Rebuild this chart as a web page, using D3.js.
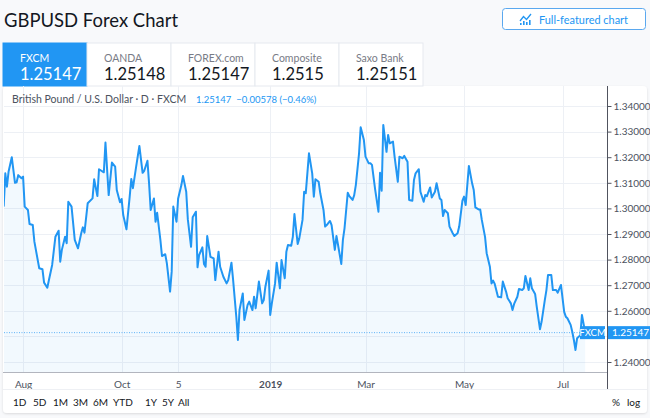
<!DOCTYPE html>
<html>
<head>
<meta charset="utf-8">
<script src="https://cdn.jsdelivr.net/npm/d3@7"></script>
<style>
  body { margin: 0; background: #f8f9fb; }
  svg { display: block; font-family: Lato, "Open Sans", sans-serif; }
</style>
</head>
<body>
<svg id="chart"></svg>
<script>
var width = 650, height = 418;

// quote tabs
var brokers = ["FXCM", "OANDA", "FOREX.com", "Composite", "Saxo Bank"];
var quotes = ["1.25147", "1.25148", "1.25147", "1.2515", "1.25151"];

// time axis
var tickDates = ["2018-08-01", "2018-10-01", "2018-11-05", "2019-01-01", "2019-03-01", "2019-05-01", "2019-07-01"];
var tickLabels = ["Aug", "Oct", "5", "2019", "Mar", "May", "Jul"];
var priceTicks = [1.24, 1.25, 1.26, 1.27, 1.28, 1.29, 1.30, 1.31, 1.32, 1.33, 1.34];
var ranges = ["1D", "5D", "1M", "3M", "6M", "YTD", "1Y", "5Y", "All"];

var lastPrice = 1.25147;

// daily closes, GBPUSD (FXCM)
var dates = [
  "2018-07-20","2018-07-21","2018-07-22","2018-07-23","2018-07-25","2018-07-27","2018-07-28","2018-07-29","2018-07-31",
  "2018-08-01","2018-08-02","2018-08-04","2018-08-05","2018-08-07","2018-08-08","2018-08-11","2018-08-13","2018-08-14","2018-08-16",
  "2018-08-17","2018-08-19","2018-08-21","2018-08-23","2018-08-24","2018-08-25","2018-08-27","2018-08-28","2018-08-29","2018-08-31",
  "2018-09-02","2018-09-04","2018-09-06","2018-09-07","2018-09-08","2018-09-10","2018-09-13","2018-09-14","2018-09-16","2018-09-17",
  "2018-09-20","2018-09-21","2018-09-23","2018-09-25","2018-09-27","2018-09-28","2018-09-30",
  "2018-10-01","2018-10-02","2018-10-04","2018-10-06","2018-10-07","2018-10-08","2018-10-10","2018-10-12","2018-10-14","2018-10-15",
  "2018-10-17","2018-10-18","2018-10-19","2018-10-21","2018-10-22","2018-10-23","2018-10-25","2018-10-26","2018-10-28","2018-10-29","2018-10-31",
  "2018-11-01","2018-11-02","2018-11-04","2018-11-05","2018-11-07","2018-11-08","2018-11-10","2018-11-11","2018-11-13","2018-11-14",
  "2018-11-16","2018-11-17","2018-11-18","2018-11-20","2018-11-21","2018-11-22","2018-11-23","2018-11-25","2018-11-27","2018-11-28","2018-11-30",
  "2018-12-01","2018-12-03","2018-12-05","2018-12-06","2018-12-08","2018-12-09","2018-12-11","2018-12-12","2018-12-13","2018-12-15",
  "2018-12-16","2018-12-18","2018-12-19","2018-12-21","2018-12-22","2018-12-23","2018-12-25","2018-12-27","2018-12-28","2018-12-29","2018-12-31",
  "2019-01-01","2019-01-02","2019-01-04","2019-01-05","2019-01-07","2019-01-08","2019-01-10","2019-01-11","2019-01-12","2019-01-14","2019-01-15",
  "2019-01-16","2019-01-18","2019-01-19","2019-01-21","2019-01-22","2019-01-23","2019-01-25","2019-01-27","2019-01-28","2019-01-29","2019-01-31",
  "2019-02-01","2019-02-03","2019-02-04","2019-02-05","2019-02-07","2019-02-08","2019-02-10","2019-02-11","2019-02-12","2019-02-14",
  "2019-02-15","2019-02-16","2019-02-18","2019-02-19","2019-02-21","2019-02-22","2019-02-23","2019-02-25","2019-02-26","2019-02-28",
  "2019-03-01","2019-03-03","2019-03-04","2019-03-05","2019-03-07","2019-03-09","2019-03-10","2019-03-11","2019-03-12","2019-03-14","2019-03-15",
  "2019-03-16","2019-03-18","2019-03-19","2019-03-21","2019-03-22","2019-03-24","2019-03-25","2019-03-27","2019-03-28","2019-03-30","2019-03-31",
  "2019-04-01","2019-04-03","2019-04-04","2019-04-06","2019-04-07","2019-04-08","2019-04-10","2019-04-11","2019-04-13","2019-04-14","2019-04-16",
  "2019-04-17","2019-04-18","2019-04-19","2019-04-21","2019-04-22","2019-04-24","2019-04-25","2019-04-27","2019-04-28","2019-04-30",
  "2019-05-01","2019-05-02","2019-05-04","2019-05-06","2019-05-07","2019-05-08","2019-05-10","2019-05-11","2019-05-12","2019-05-14","2019-05-15",
  "2019-05-17","2019-05-18","2019-05-19","2019-05-20","2019-05-22","2019-05-24","2019-05-25","2019-05-27","2019-05-28","2019-05-30","2019-05-31",
  "2019-06-01","2019-06-03","2019-06-04","2019-06-06","2019-06-07","2019-06-08","2019-06-10","2019-06-11","2019-06-12","2019-06-14","2019-06-15",
  "2019-06-17","2019-06-18","2019-06-20","2019-06-21","2019-06-22","2019-06-24","2019-06-25","2019-06-27","2019-06-28","2019-06-30",
  "2019-07-01","2019-07-02","2019-07-03","2019-07-04","2019-07-06","2019-07-07","2019-07-08","2019-07-09","2019-07-10","2019-07-12","2019-07-13","2019-07-15"
];
var closes = [
  1.3007,1.3137,1.3085,1.3143,1.3200,1.3100,1.3102,1.3130,1.3118,
  1.3124,1.3007,1.2994,1.2939,1.2935,1.2870,1.2766,1.2762,1.2710,1.2690,
  1.2720,1.2779,1.2889,1.2913,1.2792,1.2838,1.2889,1.2864,1.3026,1.3007,
  1.2877,1.2844,1.2903,1.2926,1.2905,1.3020,1.3039,1.3114,1.3048,1.3153,
  1.3141,1.3257,1.3052,1.3179,1.3163,1.3072,1.3024,
  1.3037,1.2974,1.2918,1.3046,1.3115,1.3079,1.3163,1.3244,1.3139,1.3147,
  1.3186,1.3098,1.2994,1.3039,1.2948,1.2983,1.2877,1.2814,1.2821,1.2786,1.2675,
  1.2753,1.3007,1.2948,1.3039,1.3091,1.3127,1.3065,1.2957,1.2850,1.2965,
  1.2987,1.2770,1.2818,1.2848,1.2783,1.2772,1.2892,1.2811,1.2805,1.2720,1.2831,
  1.2772,1.2733,1.2707,1.2720,1.2788,1.2723,1.2577,1.2486,1.2603,1.2668,
  1.2564,1.2623,1.2636,1.2603,1.2655,1.2610,1.2714,1.2629,1.2642,1.2694,1.2757,
  1.2584,1.2629,1.2707,1.2788,1.2688,1.2798,1.2727,1.2831,1.2857,1.2854,1.2889,
  1.2978,1.2861,1.2883,1.2955,1.3065,1.3059,1.3215,1.3137,1.3046,1.3114,1.3104,
  1.3059,1.2994,1.2929,1.2935,1.2951,1.2935,1.2838,1.2892,1.2857,1.2783,
  1.2877,1.2922,1.3061,1.3048,1.3033,1.3052,1.3091,1.3215,1.3317,1.3267,
  1.3202,1.3176,1.3176,1.3170,1.3072,1.2987,1.3139,1.3069,1.3326,1.3221,1.3287,
  1.3254,1.3261,1.3202,1.3104,1.3202,1.3196,1.3205,1.3182,1.3033,1.3030,1.3111,
  1.3137,1.3153,1.3065,1.3026,1.3052,1.3048,1.3082,1.3043,1.3065,1.3098,1.3039,
  1.3033,1.2970,1.2994,1.2981,1.2929,1.2903,1.2892,1.2903,1.2929,1.3030,
  1.3046,1.3013,1.3166,1.3098,1.3072,1.3004,1.2996,1.2996,1.2955,1.2889,1.2825,
  1.2772,1.2707,1.2718,1.2705,1.2655,1.2653,1.2714,1.2675,1.2649,1.2629,1.2603,
  1.2627,1.2655,1.2685,1.2681,1.2688,1.2736,1.2681,1.2727,1.2688,1.2666,1.2616,
  1.2528,1.2557,1.2642,1.2681,1.2740,1.2740,1.2681,1.2681,1.2671,1.2701,
  1.2649,1.2596,1.2577,1.2571,1.2545,1.2518,1.2486,1.2447,1.2493,1.2505,1.2584,1.25147
];

var blue = "#2196f3";
var parse = d3.utcParse("%Y-%m-%d");
var data = dates.map(function(d, i) { return { date: parse(d), close: closes[i] }; });

var plotLeft = 4, plotRight = 607, plotTop = 86, plotBottom = 372;

var x = d3.scaleUtc()
    .domain([parse("2018-07-20"), parse("2019-07-29")])
    .range([3.7, 607.8]);
var y = d3.scaleLinear()
    .domain([1.24, 1.34])
    .range([362, 106]);

var svg = d3.select("#chart")
    .attr("width", width)
    .attr("height", height);

var defs = svg.append("defs");
var shadow = defs.append("filter").attr("id", "shadow")
    .attr("x", "-5%").attr("y", "-5%").attr("width", "110%").attr("height", "110%");
shadow.append("feDropShadow").attr("dx", 0).attr("dy", 1).attr("stdDeviation", 1.2)
    .attr("flood-color", "#000").attr("flood-opacity", 0.12);
defs.append("clipPath").attr("id", "plotclip").append("rect")
    .attr("x", plotLeft).attr("y", plotTop).attr("width", plotRight - plotLeft).attr("height", plotBottom - plotTop);

// title + button
svg.append("text")
    .attr("x", 4).attr("y", 27)
    .attr("font-size", 20).attr("fill", "#131722")
    .attr("textLength", 174).attr("lengthAdjust", "spacingAndGlyphs")
    .text("GBPUSD Forex Chart");

var btn = svg.append("g");
btn.append("rect")
    .attr("x", 502.5).attr("y", 8.5).attr("width", 143).attr("height", 21).attr("rx", 3)
    .attr("fill", "#fff").attr("stroke", "#5aa8ef");
btn.append("path")
    .attr("d", "M520,21 L523.5,16.5 L526.5,19.5 L531,14")
    .attr("fill", "none").attr("stroke", blue).attr("stroke-width", 1.3);
btn.selectAll(".bar").data([2, 4, 3, 5]).enter().append("rect")
    .attr("x", function(d, i) { return 520 + i * 3; })
    .attr("y", function(d) { return 25 - d; })
    .attr("width", 1.6).attr("height", function(d) { return d; })
    .attr("fill", blue);
btn.append("text")
    .attr("x", 539).attr("y", 23.5)
    .attr("font-size", 11.5).attr("fill", blue)
    .attr("textLength", 89).attr("lengthAdjust", "spacingAndGlyphs")
    .text("Full-featured chart");

// panel
svg.append("rect")
    .attr("x", 3).attr("y", 86).attr("width", 644).attr("height", 327).attr("rx", 4)
    .attr("fill", "#fff").attr("filter", "url(#shadow)");

// tabs
var tabX = d3.scaleBand().domain(brokers).range([3, 423]);
var tabs = svg.selectAll(".tab").data(brokers).enter().append("g")
    .attr("transform", function(d) { return "translate(" + tabX(d) + ",43)"; });
tabs.append("rect")
    .attr("width", tabX.bandwidth()).attr("height", 43)
    .attr("fill", function(d, i) { return i === 0 ? blue : "#fff"; })
    .attr("stroke", function(d, i) { return i === 0 ? blue : "#e6e9ef"; });
tabs.append("text")
    .attr("x", 17).attr("y", 19)
    .attr("font-size", 10.5)
    .attr("fill", function(d, i) { return i === 0 ? "#fff" : "#787b86"; })
    .text(function(d) { return d; });
tabs.append("text")
    .attr("x", 17).attr("y", 37)
    .attr("font-size", 16.5)
    .attr("fill", function(d, i) { return i === 0 ? "#fff" : "#131722"; })
    .text(function(d, i) { return quotes[i]; });

// grid
var grid = svg.append("g");
grid.selectAll(".hg").data(priceTicks).enter().append("line")
    .attr("x1", plotLeft).attr("x2", plotRight)
    .attr("y1", function(d) { return Math.round(y(d)) + 0.5; })
    .attr("y2", function(d) { return Math.round(y(d)) + 0.5; })
    .attr("stroke", "#edf0f5");
grid.selectAll(".vg").data(tickDates).enter().append("line")
    .attr("x1", function(d) { return Math.round(x(parse(d))) + 0.5; })
    .attr("x2", function(d) { return Math.round(x(parse(d))) + 0.5; })
    .attr("y1", plotTop).attr("y2", plotBottom)
    .attr("stroke", "#edf0f5");

// area + line
var area = d3.area()
    .x(function(d) { return x(d.date); })
    .y0(plotBottom)
    .y1(function(d) { return y(d.close); });
var line = d3.line()
    .x(function(d) { return x(d.date); })
    .y(function(d) { return y(d.close); });

var plot = svg.append("g").attr("clip-path", "url(#plotclip)");
plot.append("path").datum(data)
    .attr("d", area)
    .attr("fill", blue).attr("fill-opacity", 0.06);
plot.append("path").datum(data)
    .attr("d", line)
    .attr("fill", "none").attr("stroke", blue).attr("stroke-width", 2)
    .attr("stroke-linejoin", "round");

// last price dotted line
svg.append("line")
    .attr("x1", plotLeft).attr("x2", 580)
    .attr("y1", y(lastPrice)).attr("y2", y(lastPrice))
    .attr("stroke", blue).attr("stroke-opacity", 0.7)
    .attr("stroke-dasharray", "1,1.5");

// legend
svg.append("text")
    .attr("x", 12).attr("y", 103)
    .attr("font-size", 10.5).attr("fill", "#4c525e")
    .text("British Pound / U.S. Dollar \u00b7 D \u00b7 FXCM");
svg.append("text")
    .attr("x", 196).attr("y", 102.5)
    .attr("font-size", 9.5).attr("fill", blue)
    .style("white-space", "pre")
    .text("1.25147  \u22120.00578 (\u22120.46%)");

// time axis
svg.append("line")
    .attr("x1", 3).attr("x2", plotRight)
    .attr("y1", plotBottom + 0.5).attr("y2", plotBottom + 0.5)
    .attr("stroke", "#b2b5be");
var xAxis = d3.axisBottom(x)
    .tickValues(tickDates.map(parse))
    .tickSize(0)
    .tickFormat(function(d, i) { return tickLabels[i]; });
var gx = svg.append("g")
    .attr("transform", "translate(0," + plotBottom + ")")
    .call(xAxis);
gx.select(".domain").remove();
gx.selectAll("text")
    .attr("y", 9).attr("dy", "0.71em")
    .attr("font-family", "Lato, 'Open Sans', sans-serif")
    .attr("font-size", 10).attr("fill", "#4c525e")
    .attr("font-weight", function(d, i) { return tickLabels[i] === "2019" ? "bold" : "normal"; });

// price axis (the tick label under the last-price box is hidden, as in the original)
var yAxis = d3.axisRight(y)
    .tickValues(priceTicks)
    .tickSize(4)
    .tickPadding(2)
    .tickFormat(d3.format(".5f"));
var gy = svg.append("g")
    .attr("transform", "translate(" + (plotRight + 0.5) + ",0)")
    .call(yAxis);
gy.select(".domain").remove();
gy.selectAll("line").attr("stroke", "#50535e");
gy.selectAll("text")
    .attr("font-family", "Lato, 'Open Sans', sans-serif")
    .attr("font-size", 10).attr("fill", "#4c525e")
    .filter(function(d) { return Math.abs(y(d) - y(lastPrice)) < 12; })
    .remove();
svg.append("line")
    .attr("x1", plotRight + 0.5).attr("x2", plotRight + 0.5)
    .attr("y1", plotTop).attr("y2", 389)
    .attr("stroke", "#50535e");

// last price labels
svg.append("rect")
    .attr("x", 580).attr("y", y(lastPrice) - 6.5).attr("width", 25).attr("height", 13)
    .attr("fill", blue);
svg.append("text")
    .attr("x", 592.5).attr("y", y(lastPrice) + 3.5)
    .attr("text-anchor", "middle").attr("font-size", 9.5).attr("fill", "#fff")
    .text("FXCM");
svg.append("rect")
    .attr("x", plotRight + 1).attr("y", y(lastPrice) - 6.5).attr("width", 43).attr("height", 13)
    .attr("fill", blue);
svg.append("text")
    .attr("x", 612).attr("y", y(lastPrice) + 3.5)
    .attr("font-size", 10).attr("fill", "#fff")
    .text(d3.format(".5f")(lastPrice));

// range bar
svg.append("line")
    .attr("x1", 3).attr("x2", 647)
    .attr("y1", 389.5).attr("y2", 389.5)
    .attr("stroke", "#eef0f4");
var rangeX = [13, 33, 53, 73, 93, 113, 145, 162, 178];
svg.selectAll(".range").data(ranges).enter().append("text")
    .attr("x", function(d, i) { return rangeX[i]; })
    .attr("y", 406)
    .attr("font-size", 10).attr("fill", "#131722")
    .text(function(d) { return d; });
svg.append("text").attr("x", 612).attr("y", 406)
    .attr("font-size", 10).attr("fill", "#131722").text("%");
svg.append("text").attr("x", 627).attr("y", 406)
    .attr("font-size", 10).attr("fill", "#131722").text("log");
</script>
</body>
</html>
